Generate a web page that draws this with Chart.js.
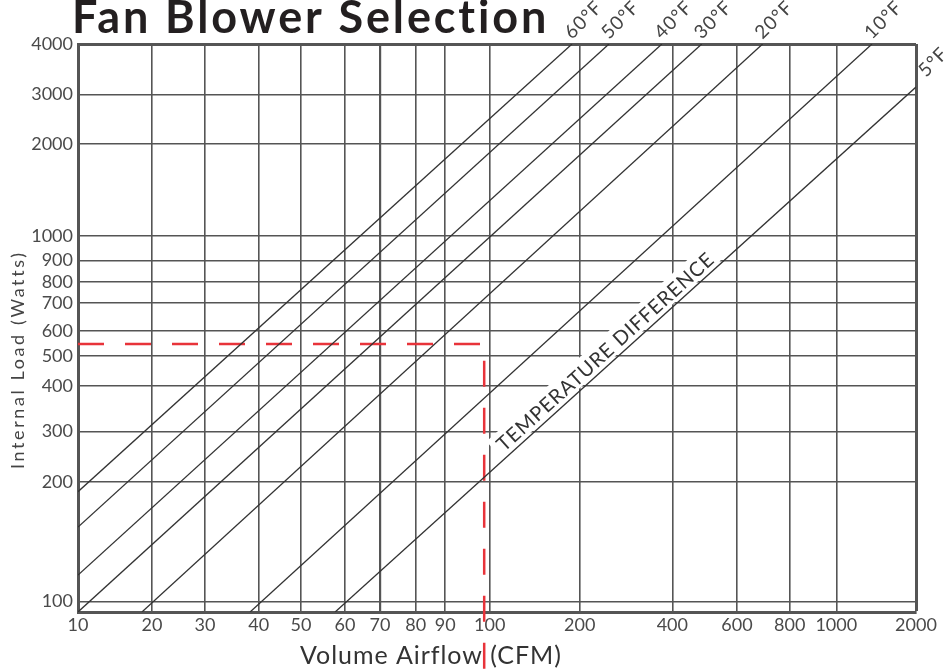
<!DOCTYPE html>
<html>
<head>
<meta charset="utf-8">
<title>Fan Blower Selection</title>
<script src="https://cdn.jsdelivr.net/npm/chart.js@4.4.1/dist/chart.umd.min.js"></script>
<style>
    html, body { margin: 0; padding: 0; background: #fff; }
    #wrap { width: 952px; height: 669px; }
</style>
</head>
<body>
<div id="wrap"><canvas id="chart-fan" width="952" height="669"></canvas></div>
<script>
// values printed on the axes
const cfmTicks = [10, 20, 30, 40, 50, 60, 70, 80, 90, 100, 200, 400, 600, 800, 1000, 2000];
const wattTicks = [100, 200, 300, 400, 500, 600, 700, 800, 900, 1000, 2000, 3000, 4000];

// temperature difference lines, where each one enters and leaves the grid
const tempLabels = ['60°F', '50°F', '40°F', '30°F', '20°F', '10°F', '5°F'];
const startCfm = [10, 10, 10, 10, 18.2, 38.2, 57.6];
const startWatts = [189, 154, 116.6, 94, 94, 94, 94];
const endCfm = [188.5, 249, 370, 481, 690, 1364, 2000];
const endWatts = [4000, 4000, 4000, 4000, 4000, 4000, 3128];

// the worked example (red dashed)
const exampleCfm = [10, 98.7, 98.7];
const exampleWatts = [545, 545, 60];

// the printed grid is hand spaced, not a true log scale:
// [value, fraction of the axis length]
const axisWarp = {
    x: [[10, 0], [20, 0.0883], [30, 0.1516], [40, 0.2156], [50, 0.2661], [60, 0.3186],
        [70, 0.3604], [80, 0.4030], [90, 0.4383], [100, 0.4913], [200, 0.5987],
        [400, 0.7092], [600, 0.7864], [800, 0.8493], [1000, 0.9049], [2000, 1]],
    y: [[94, 0], [100, 0.0185], [200, 0.2289], [300, 0.3178], [400, 0.3984], [500, 0.4512],
        [600, 0.4947], [700, 0.5435], [800, 0.5813], [900, 0.6188], [1000, 0.6625],
        [2000, 0.8239], [3000, 0.9114], [4000, 1]]
};

function warpDecimal(v, pts) {
    const lv = Math.log(v);
    let i = 0;
    while (i < pts.length - 2 && lv > Math.log(pts[i + 1][0])) i++;
    const l0 = Math.log(pts[i][0]), l1 = Math.log(pts[i + 1][0]);
    return pts[i][1] + (lv - l0) / (l1 - l0) * (pts[i + 1][1] - pts[i][1]);
}

function unwarpDecimal(d, pts) {
    let i = 0;
    while (i < pts.length - 2 && d > pts[i + 1][1]) i++;
    const l0 = Math.log(pts[i][0]), l1 = Math.log(pts[i + 1][0]);
    return Math.exp(l0 + (d - pts[i][1]) / (pts[i + 1][1] - pts[i][1]) * (l1 - l0));
}

const BaseLog = Chart.LogarithmicScale || Chart.registry.getScale('logarithmic');

class WarpedLogScale extends BaseLog {
    getPixelForValue(value) {
        if (!(value > 0)) value = this.min;
        return this.getPixelForDecimal(warpDecimal(value, axisWarp[this.id]));
    }

    getValueForPixel(pixel) {
        return unwarpDecimal(this.getDecimalForPixel(pixel), axisWarp[this.id]);
    }
}
WarpedLogScale.id = 'warpedLog';
Chart.register(WarpedLogScale);

const gridColor = '#555555';
const tickFont = { family: 'Lato', size: 18 };

// spread the letters so the text covers the same length as the original font
function fitText(ctx, text, width) {
    ctx.letterSpacing = '0px';
    const w = ctx.measureText(text).width;
    const spacing = Math.max(0, (width - w) / text.length);
    ctx.letterSpacing = spacing + 'px';
    return spacing;
}

const chartText = {
    id: 'chartText',
    beforeDatasetsDraw(chart) {
        const ctx = chart.ctx;
        ctx.save();
        ctx.fillStyle = '#231f20';
        ctx.font = 'bold 45px Lato';
        ctx.textAlign = 'left';
        ctx.textBaseline = 'alphabetic';
        fitText(ctx, 'Fan Blower Selection', 478);
        ctx.fillText('Fan Blower Selection', 72, 33);

        ctx.fillStyle = '#333333';
        ctx.font = '25px Lato';
        ctx.textAlign = 'left';
        ctx.textBaseline = 'middle';
        fitText(ctx, 'Volume Airflow (CFM)', 262);
        ctx.fillText('Volume Airflow (CFM)', 300, 656);

        ctx.fillStyle = '#444444';
        ctx.font = '18px Lato';
        fitText(ctx, 'Internal Load (Watts)', 218);
        ctx.translate(18, 469);
        ctx.rotate(-Math.PI / 2);
        ctx.fillText('Internal Load (Watts)', 0, 0);
        ctx.restore();
    },
    afterDatasetsDraw(chart) {
        const ctx = chart.ctx;
        ctx.save();
        ctx.fillStyle = '#444444';
        ctx.font = '19px Lato';
        ctx.textAlign = 'left';
        ctx.textBaseline = 'alphabetic';
        ctx.letterSpacing = '1px';
        tempLabels.forEach(function (label, i) {
            const end = chart.getDatasetMeta(i).data[1];
            const atTop = endWatts[i] >= 4000;
            ctx.save();
            ctx.translate(end.x + (atTop ? 0 : 10), end.y + (atTop ? -4 : -9));
            ctx.rotate(-Math.PI / 4);
            ctx.fillText(label, 0, 0);
            ctx.restore();
        });

        // label running along the 5°F line, on a white patch
        const pts = chart.getDatasetMeta(6).data;
        const a = pts[0], b = pts[1];
        const angle = Math.atan2(b.y - a.y, b.x - a.x);
        const t = 0.297;
        ctx.translate(a.x + (b.x - a.x) * t, a.y + (b.y - a.y) * t);
        ctx.rotate(angle);
        ctx.font = '20px Lato';
        const text = 'TEMPERATURE DIFFERENCE';
        fitText(ctx, text, 285);
        const w = ctx.measureText(text).width;
        ctx.fillStyle = '#ffffff';
        ctx.fillRect(-6, -25, w + 10, 23);
        ctx.fillStyle = '#333333';
        ctx.fillText(text, 0, -5);
        ctx.restore();
    }
};

const datasets = tempLabels.map(function (label, i) {
    return {
        label: label,
        data: [{ x: startCfm[i], y: startWatts[i] }, { x: endCfm[i], y: endWatts[i] }],
        borderColor: '#333333',
        borderWidth: 1.3,
        pointRadius: 0,
        showLine: true
    };
});

datasets.push({
    label: 'example',
    data: exampleCfm.map((c, i) => ({ x: c, y: exampleWatts[i] })),
    borderColor: '#e8333a',
    borderWidth: 2.5,
    borderDash: [26, 21],
    pointRadius: 0,
    showLine: true,
    clip: false
});

new Chart(document.getElementById('chart-fan'), {
    type: 'scatter',
    data: { datasets: datasets },
    plugins: [chartText],
    options: {
        responsive: false,
        animation: false,
        layout: { padding: { top: 44, right: 36, left: 0, bottom: 0 } },
        plugins: {
            legend: { display: false },
            tooltip: { enabled: false },
            title: { display: false }
        },
        scales: {
            x: {
                type: 'warpedLog',
                min: 10,
                max: 2000,
                afterFit: function (scale) { scale.height = 57; },
                afterBuildTicks: function (scale) {
                    scale.ticks = cfmTicks.map(v => ({ value: v }));
                },
                ticks: {
                    autoSkip: false,
                    maxRotation: 0,
                    padding: 2,
                    color: '#4a4a4a',
                    font: tickFont,
                    callback: v => String(v)
                },
                grid: {
                    color: gridColor,
                    drawTicks: false,
                    lineWidth: ctx => ctx.tick && ctx.tick.value === 2000 ? 3 : (ctx.tick && ctx.tick.value === 70 ? 2.2 : 1.6)
                },
                border: { color: gridColor, width: 3 }
            },
            y: {
                type: 'warpedLog',
                min: 94,
                max: 4000,
                afterFit: function (scale) { scale.width = 78; },
                afterBuildTicks: function (scale) {
                    scale.ticks = wattTicks.map(v => ({ value: v }));
                },
                ticks: {
                    autoSkip: false,
                    padding: 5,
                    color: '#4a4a4a',
                    font: tickFont,
                    callback: v => String(v)
                },
                grid: {
                    color: gridColor,
                    drawTicks: false,
                    lineWidth: ctx => ctx.tick && ctx.tick.value === 4000 ? 3 : 1.6
                },
                border: { color: gridColor, width: 3 }
            }
        }
    }
});
</script>
</body>
</html>
